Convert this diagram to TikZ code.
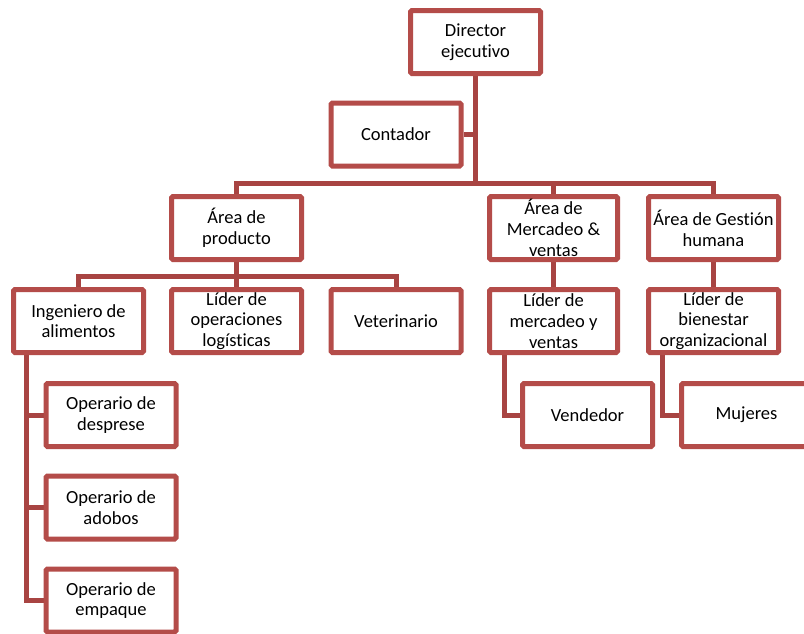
\documentclass[tikz,border=0pt]{standalone}
\usepackage{fontspec}
\setmainfont{Carlito}[Ligatures=NoCommon]
\usetikzlibrary{backgrounds}
\definecolor{boxred}{RGB}{180,76,73}
\definecolor{linered}{RGB}{168,68,66}
\tikzset{
  orgbox/.style={draw=boxred, line width=5pt, fill=white, rounded corners=1.5pt,
    minimum width=130pt, minimum height=63pt, inner sep=1pt, align=center,
    font=\fontsize{18.5}{20.7}\selectfont},
  conn/.style={draw=linered, line width=5pt}
}
\begin{document}
\begin{tikzpicture}[x=1pt,y=-1pt]
\clip (0,0) rectangle (804,633);
\node[orgbox] (dir) at (475.5,42) {Director\\ejecutivo};
\node[orgbox] (cont) at (396,134.5) {Contador};
\node[orgbox] (prod) at (236.5,228) {Área de\\producto};
\node[orgbox, minimum width=128pt] (merc) at (553.5,228) {Área de\\Mercadeo \&\\ventas};
\node[orgbox] (gest) at (713.5,228) {Área de Gestión\\humana};
\node[orgbox] (ing) at (78.5,321) {Ingeniero de\\alimentos};
\node[orgbox] (lop) at (236.5,321) {Líder de\\operaciones\\logísticas};
\node[orgbox] (vet) at (396,321) {Veterinario};
\node[orgbox, minimum width=128pt] (lmerc) at (553.5,321) {Líder de\\mercadeo y\\ventas};
\node[orgbox] (lbien) at (713.5,321) {Líder de\\bienestar\\organizacional};
\node[orgbox] (vend) at (587.5,415) {Vendedor};
\node[orgbox] (muj) at (746.5,415) {Mujeres};
\node[orgbox] (op1) at (111,415) {Operario de\\desprese};
\node[orgbox] (op2) at (111,507.5) {Operario de\\adobos};
\node[orgbox] (op3) at (111,600.5) {Operario de\\empaque};
\coordinate (bar1) at (475.5,183);
\coordinate (bar2) at (236.5,276);
\coordinate (ingv) at (26,355);
\coordinate (lmv) at (504,354);
\coordinate (lbv) at (662,354);
\begin{scope}[on background layer]
\fill[white] (0,0) rectangle (804,633);
\draw[conn] (dir.south) -- (dir.south |- bar1);
\draw[conn] (cont.east) -- (cont.east -| dir.south);
\draw[conn] (prod.north) -- (prod.north |- bar1) -| (gest.north);
\draw[conn] (merc.north) -- (merc.north |- bar1);
\draw[conn] (ing.north) -- (ing.north |- bar2) -| (vet.north);
\draw[conn] (prod.south) -- (lop.north);
\draw[conn] (merc.south) -- (lmerc.north);
\draw[conn] (gest.south) -- (lbien.north);
\draw[conn] (ingv) |- (op3.west);
\draw[conn] (ingv |- op1.west) -- (op1.west);
\draw[conn] (ingv |- op2.west) -- (op2.west);
\draw[conn] (lmv) |- (vend.west);
\draw[conn] (lbv) |- (muj.west);
\end{scope}
\end{tikzpicture}
\end{document}
